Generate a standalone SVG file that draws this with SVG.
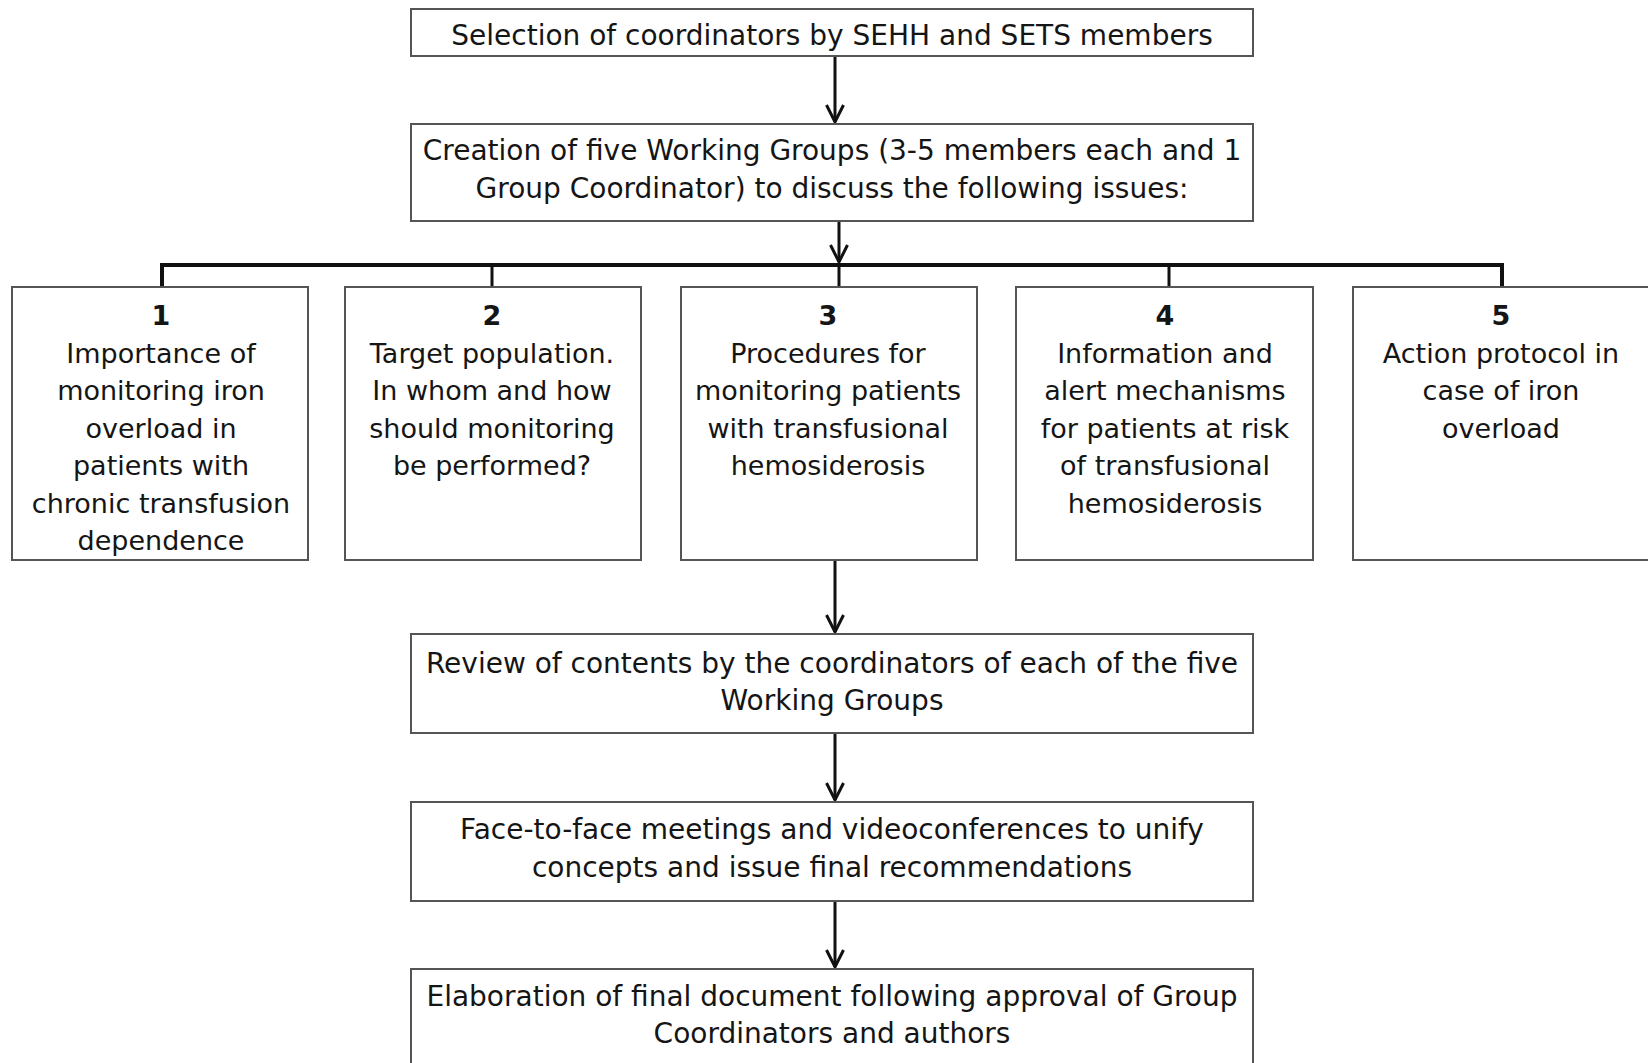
<svg xmlns="http://www.w3.org/2000/svg" width="1648" height="1063" viewBox="0 0 1648 1063">
<style>
.box{fill:#fff;stroke:#555;stroke-width:2}
.t{font-family:"DejaVu Sans","Verdana",sans-serif;font-size:27px;fill:#151515;text-anchor:middle}
.w{font-size:28px}
.n{font-weight:bold}
.c{fill:none;stroke:#111;stroke-width:3}
.bus{fill:none;stroke:#111;stroke-width:4}
</style>
<defs>
<marker id="ah" markerUnits="userSpaceOnUse" markerWidth="24" markerHeight="24" viewBox="-2 -2 24 24" refX="18" refY="9" orient="auto">
<path d="M1,0.5 L18,9 L1,17.5" fill="none" stroke="#111" stroke-width="3"/>
</marker>
</defs>
<rect width="1648" height="1063" fill="#fff"/>

<g id="connectors">
<line class="c" x1="835" y1="56" x2="835" y2="122" marker-end="url(#ah)"/>
<line class="c" x1="839" y1="221" x2="839" y2="262" marker-end="url(#ah)"/>
<polyline class="bus" points="162,287 162,265 1502,265 1502,287"/>
<line class="c" x1="492" y1="265" x2="492" y2="287"/>
<line class="c" x1="839" y1="263" x2="839" y2="287"/>
<line class="c" x1="1169" y1="265" x2="1169" y2="287"/>
<line class="c" x1="835" y1="561" x2="835" y2="632" marker-end="url(#ah)"/>
<line class="c" x1="835" y1="734" x2="835" y2="800" marker-end="url(#ah)"/>
<line class="c" x1="835" y1="902" x2="835" y2="967" marker-end="url(#ah)"/>
</g>

<g id="nodeA">
<rect class="box" x="411" y="9" width="842" height="47"/>
<text class="t w" x="832" y="45">Selection of coordinators by SEHH and SETS members</text>
</g>

<g id="nodeB">
<rect class="box" x="411" y="124" width="842" height="97"/>
<text class="t w" x="832" y="160">Creation of five Working Groups (3-5 members each and 1</text>
<text class="t w" x="832" y="198">Group Coordinator) to discuss the following issues:</text>
</g>

<g id="node1">
<rect class="box" x="12" y="287" width="296" height="273"/>
<text class="t n" x="161" y="325">1</text>
<text class="t" x="161" y="363">Importance of</text>
<text class="t" x="161" y="400.4">monitoring iron</text>
<text class="t" x="161" y="437.8">overload in</text>
<text class="t" x="161" y="475.2">patients with</text>
<text class="t" x="161" y="512.6">chronic transfusion</text>
<text class="t" x="161" y="550">dependence</text>
</g>

<g id="node2">
<rect class="box" x="345" y="287" width="296" height="273"/>
<text class="t n" x="492" y="325">2</text>
<text class="t" x="492" y="363">Target population.</text>
<text class="t" x="492" y="400.4">In whom and how</text>
<text class="t" x="492" y="437.8">should monitoring</text>
<text class="t" x="492" y="475.2">be performed?</text>
</g>

<g id="node3">
<rect class="box" x="681" y="287" width="296" height="273"/>
<text class="t n" x="828" y="325">3</text>
<text class="t" x="828" y="363">Procedures for</text>
<text class="t" x="828" y="400.4">monitoring patients</text>
<text class="t" x="828" y="437.8">with transfusional</text>
<text class="t" x="828" y="475.2">hemosiderosis</text>
</g>

<g id="node4">
<rect class="box" x="1016" y="287" width="297" height="273"/>
<text class="t n" x="1165" y="325">4</text>
<text class="t" x="1165" y="363">Information and</text>
<text class="t" x="1165" y="400.4">alert mechanisms</text>
<text class="t" x="1165" y="437.8">for patients at risk</text>
<text class="t" x="1165" y="475.2">of transfusional</text>
<text class="t" x="1165" y="512.6">hemosiderosis</text>
</g>

<g id="node5">
<rect class="box" x="1353" y="287" width="300" height="273"/>
<text class="t n" x="1501" y="325">5</text>
<text class="t" x="1501" y="363">Action protocol in</text>
<text class="t" x="1501" y="400.4">case of iron</text>
<text class="t" x="1501" y="437.8">overload</text>
</g>

<g id="nodeC">
<rect class="box" x="411" y="634" width="842" height="99"/>
<text class="t w" x="832" y="673">Review of contents by the coordinators of each of the five</text>
<text class="t w" x="832" y="710">Working Groups</text>
</g>

<g id="nodeD">
<rect class="box" x="411" y="802" width="842" height="99"/>
<text class="t w" x="832" y="839">Face-to-face meetings and videoconferences to unify</text>
<text class="t w" x="832" y="877">concepts and issue final recommendations</text>
</g>

<g id="nodeE">
<rect class="box" x="411" y="969" width="842" height="110"/>
<text class="t w" x="832" y="1006">Elaboration of final document following approval of Group</text>
<text class="t w" x="832" y="1043">Coordinators and authors</text>
</g>
</svg>
